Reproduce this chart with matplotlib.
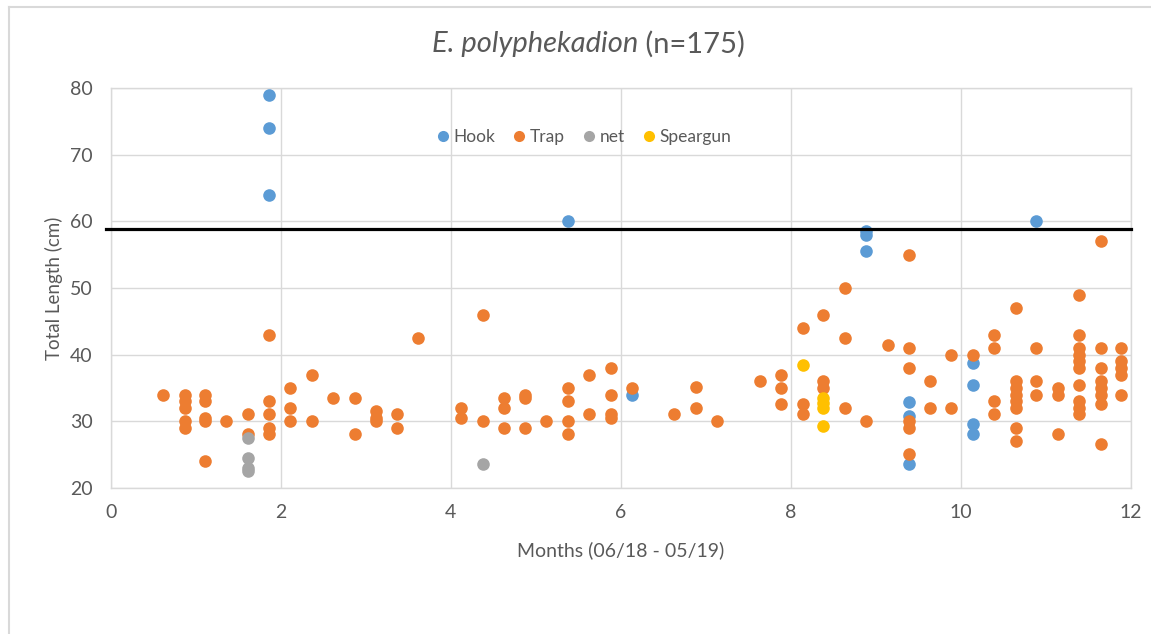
import matplotlib.pyplot as plt
from matplotlib.lines import Line2D

# ---- data (month, total length cm) ----
hook_x = [1.86, 1.86, 1.86, 5.38, 6.13, 8.89, 8.89, 8.89, 9.39, 9.39, 9.39,
          10.14, 10.14, 10.14, 10.14, 10.89]
hook_y = [79, 74, 64, 60, 34, 58.5, 58, 55.5, 32.8, 30.7, 23.5,
          38.8, 35.5, 29.5, 28, 60]

# trap catches grouped by sampling week
trap_weeks = [0.62, 0.87, 1.11, 1.36, 1.61, 1.86, 2.11, 2.37, 2.62, 2.87, 3.12,
              3.37, 3.62, 4.12, 4.38, 4.63, 4.87, 5.12, 5.38, 5.63, 5.88, 6.13,
              6.63, 6.88, 7.13, 7.64, 7.88, 8.14, 8.38, 8.64, 8.89, 9.15, 9.39,
              9.64, 9.89, 10.14, 10.39, 10.65, 10.89, 11.15, 11.39, 11.65, 11.89]
trap_lengths = [
    [34], [34, 33, 32, 30, 29], [34, 33, 30.5, 30, 24], [30], [31, 28],
    [43, 33, 31, 29, 28], [35, 32, 30], [37, 30], [33.5], [33.5, 28],
    [31.5, 30.5, 30], [31, 29], [42.5], [32, 30.5], [46, 30], [33.5, 32, 29],
    [34, 33.5, 29], [30], [35, 33, 30, 28], [37, 31], [38, 34, 31, 30.5], [35],
    [31], [35.2, 32], [30], [36], [37, 35, 32.5], [44, 32.5, 31], [46, 36, 35],
    [50, 42.5, 32], [30], [41.5], [55, 41, 38, 30, 29, 25], [36, 32], [40, 32],
    [40], [43, 41, 33, 31], [47, 36, 35, 34, 33, 32, 29, 27], [41, 36, 34],
    [35, 34, 28], [49, 43, 41, 40, 39, 38, 35.5, 33, 32, 31],
    [57, 41, 38, 36, 35, 34, 32.5, 26.5], [41, 39, 38, 37, 34],
]

net_x = [1.61, 1.61, 1.61, 1.61, 4.38]
net_y = [27.5, 24.5, 23, 22.5, 23.5]

spear_x = [8.14, 8.38, 8.38, 8.38, 8.38]
spear_y = [38.5, 33.5, 32.7, 32, 29.3]

size_limit = 58.8

trap_x = []
trap_y = []
for wk, vals in zip(trap_weeks, trap_lengths):
    for v in vals:
        trap_x.append(wk)
        trap_y.append(v)

# ---- figure ----
plt.rcParams['font.family'] = ['Lato', 'DejaVu Sans']
txt = '#595959'
grid = '#d9d9d9'

fig = plt.figure(figsize=(11.51, 6.34), dpi=100)
ax = fig.add_axes([110.7 / 1151, 1 - 487.7 / 634, 1020 / 1151, 399.4 / 634])

ms = 82
ax.scatter(hook_x, hook_y, s=ms, color='#5B9BD5', linewidths=0, zorder=3)
ax.scatter(trap_x, trap_y, s=ms, color='#ED7D31', linewidths=0, zorder=4)
ax.scatter(net_x, net_y, s=ms, color='#A5A5A5', linewidths=0, zorder=5)
ax.scatter(spear_x, spear_y, s=ms, color='#FFC000', linewidths=0, zorder=6)

ax.plot([-0.05, 12], [size_limit, size_limit], color='black', lw=2.3,
        zorder=7, clip_on=False)

ax.set_xlim(0, 12)
ax.set_ylim(20, 80)
ax.set_xticks(range(0, 13, 2))
ax.set_yticks(range(20, 81, 10))
ax.grid(True, color=grid, lw=1)
ax.set_axisbelow(True)
for s in ax.spines.values():
    s.set_color(grid)
    s.set_linewidth(1)
ax.tick_params(length=0, labelsize=14, colors=txt)
ax.tick_params(axis='x', pad=12)
ax.tick_params(axis='y', pad=13)

ax.set_xlabel('Months (06/18 - 05/19)', fontsize=14, color=txt, labelpad=14)
ax.set_ylabel('Total Length (cm)', fontsize=13.5, color=txt, labelpad=5)

# title: italic species name + plain count
t1 = fig.text(0, 1 - 44 / 634, 'E. polyphekadion', style='italic',
              ha='left', va='center', fontsize=21, color=txt)
t2 = fig.text(0, 1 - 44 / 634, ' (n=175)', ha='left', va='center',
              fontsize=21, color=txt)
fig.canvas.draw()
r = fig.canvas.get_renderer()
w1 = t1.get_window_extent(r).width
w2 = t2.get_window_extent(r).width
x0 = 588.5 - (w1 + w2) / 2
t1.set_x(x0 / 1151)
t2.set_x((x0 + w1) / 1151)

handles = [Line2D([], [], ls='', marker='o', ms=8, mec='none', color=c)
           for c in ['#5B9BD5', '#ED7D31', '#A5A5A5', '#FFC000']]
leg = ax.legend(handles, ['Hook', 'Trap', 'net', 'Speargun'], ncol=4,
                loc='center', bbox_to_anchor=(472 / 1020, 1 - (137 - 88.3) / 399.4),
                frameon=False, fontsize=12.5, handletextpad=0.1,
                columnspacing=0.9, handlelength=1.0)
for t in leg.get_texts():
    t.set_color(txt)

# chart area border (left/top)
fig.add_artist(Line2D([9 / 1151, 9 / 1151], [0, 1 - 7 / 634], color=grid, lw=1.5))
fig.add_artist(Line2D([9 / 1151, 1.0], [1 - 7 / 634, 1 - 7 / 634], color=grid, lw=1.5))

fig.savefig('out.png', dpi=100)
